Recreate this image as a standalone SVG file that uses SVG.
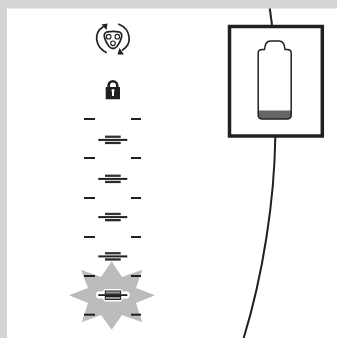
<svg xmlns="http://www.w3.org/2000/svg" width="337" height="338" viewBox="0 0 337 338">
<style>
.d{fill:#231f20}
.l{fill:none;stroke:#231f20;stroke-width:2}
.i{fill:none;stroke:#231f20;stroke-width:1.700}
</style>
<defs>
<g id="dash"><rect class="d" x="84" y="-1" width="11" height="2"/><rect class="d" x="131" y="-1" width="10" height="2"/></g>
<g id="stack"><rect x="105" y="-4.200" width="15.700" height="2.300" fill="#333"/><rect x="98.300" y="-0.900" width="29" height="2" class="d"/><rect x="105" y="2" width="15.700" height="2.300" fill="#2a2a2a"/></g>
</defs>
<rect width="337" height="338" fill="#fff"/>
<path id="frame" fill="#d4d4d4" d="M0 0H337V8.500H7V338H0Z"/>
<g id="connectors">
<path class="l" d="M269.800 8.500L272 25"/>
<path class="l" d="M275.300 137C274.500 200 263 275 243.700 338"/>
</g>
<g id="rotate-icon">
<path class="i" d="M106.700 52.700C95 47 93 33 103.500 26.500"/>
<path class="i" d="M118.300 24C131 29 133 44 122 50.500"/>
<path class="d" d="M101.500 24.500L107.500 23.500L106.500 30Z"/>
<path class="d" d="M124 54.500L117.500 54.500L119.500 48Z"/>
<path class="i" d="M107.500 31.800Q113 30.800 118.500 31.800Q122.500 32.800 121.600 37Q120.500 42 117 46.500Q113 50.500 109 46.500Q105.500 42 104.400 37Q103.500 32.800 107.500 31.800Z"/>
<circle fill="none" stroke="#231f20" stroke-width="1.100" cx="108.700" cy="36.700" r="2.300"/><circle fill="none" stroke="#231f20" stroke-width="1.100" cx="117.300" cy="36.700" r="2.300"/><circle fill="none" stroke="#231f20" stroke-width="1.100" cx="113" cy="43.300" r="2.300"/>
</g>
<g id="lock-icon">
<path class="d" d="M105.700 87V99.300H120V87H118.500V85.500A5.500 5.500 0 0 0 107.300 85.500V87ZM110 87V85.500A3 3 0 0 1 116 85.500V87Z"/>
<circle cx="113" cy="90.500" r="1.500" fill="#fff"/><rect x="112" y="91" width="2" height="5" fill="#fff"/>
</g>
<use id="dash-1" href="#dash" y="119"/>
<use id="stack-1" href="#stack" y="139.800"/>
<use id="dash-2" href="#dash" y="158"/>
<use id="stack-2" href="#stack" y="178.800"/>
<use id="dash-3" href="#dash" y="198"/>
<use id="stack-3" href="#stack" y="217"/>
<use id="dash-4" href="#dash" y="237"/>
<use id="stack-4" href="#stack" y="256.300"/>
<g id="burst">
<path fill="#bdbcbc" d="M111.700 261.300L122 277L142.300 269.700L136 288L155 295.300L136 303L142.300 322.300L122 315L111.700 329.700L101 315L81.700 322.300L88 303L69 295.300L88 288L81 269.700L101 277Z"/>
<use href="#dash" y="276"/>
<use href="#dash" y="314.700"/>
<path fill="#fff" stroke="#fff" stroke-width="2" stroke-linejoin="round" d="M105 290H120.700L122.500 292.500H127.500Q130 295 127.500 297.500H122.500L120.700 300.500H105L103 297.500H98Q95.500 295 98 292.500H103Z"/>
<rect x="105.300" y="291" width="15.400" height="3" fill="#999" stroke="#231f20"/>
<rect x="98.300" y="294.200" width="29" height="1.800" class="d"/>
<rect x="105.300" y="296.500" width="15.400" height="3" fill="#999" stroke="#231f20"/>
</g>
<g id="battery-box">
<rect x="229.500" y="26.500" width="92.800" height="109.500" fill="#fff" stroke="#231f20" stroke-width="3.500"/>
<path fill="#666" d="M258.200 110.500H291.200V115Q291.200 119 287 119H262.500Q258.200 119 258.200 115Z"/>
<path fill="none" stroke="#231f20" stroke-width="1.500" d="M262.500 119H287Q291.200 119 291.200 115V53Q291.200 49.500 287 49.500H285Q284.500 41 279 41H270.500Q265 41 264.500 49.500H262.500Q258.200 49.500 258.200 53V115Q258.200 119 262.500 119Z"/>
</g>
</svg>
